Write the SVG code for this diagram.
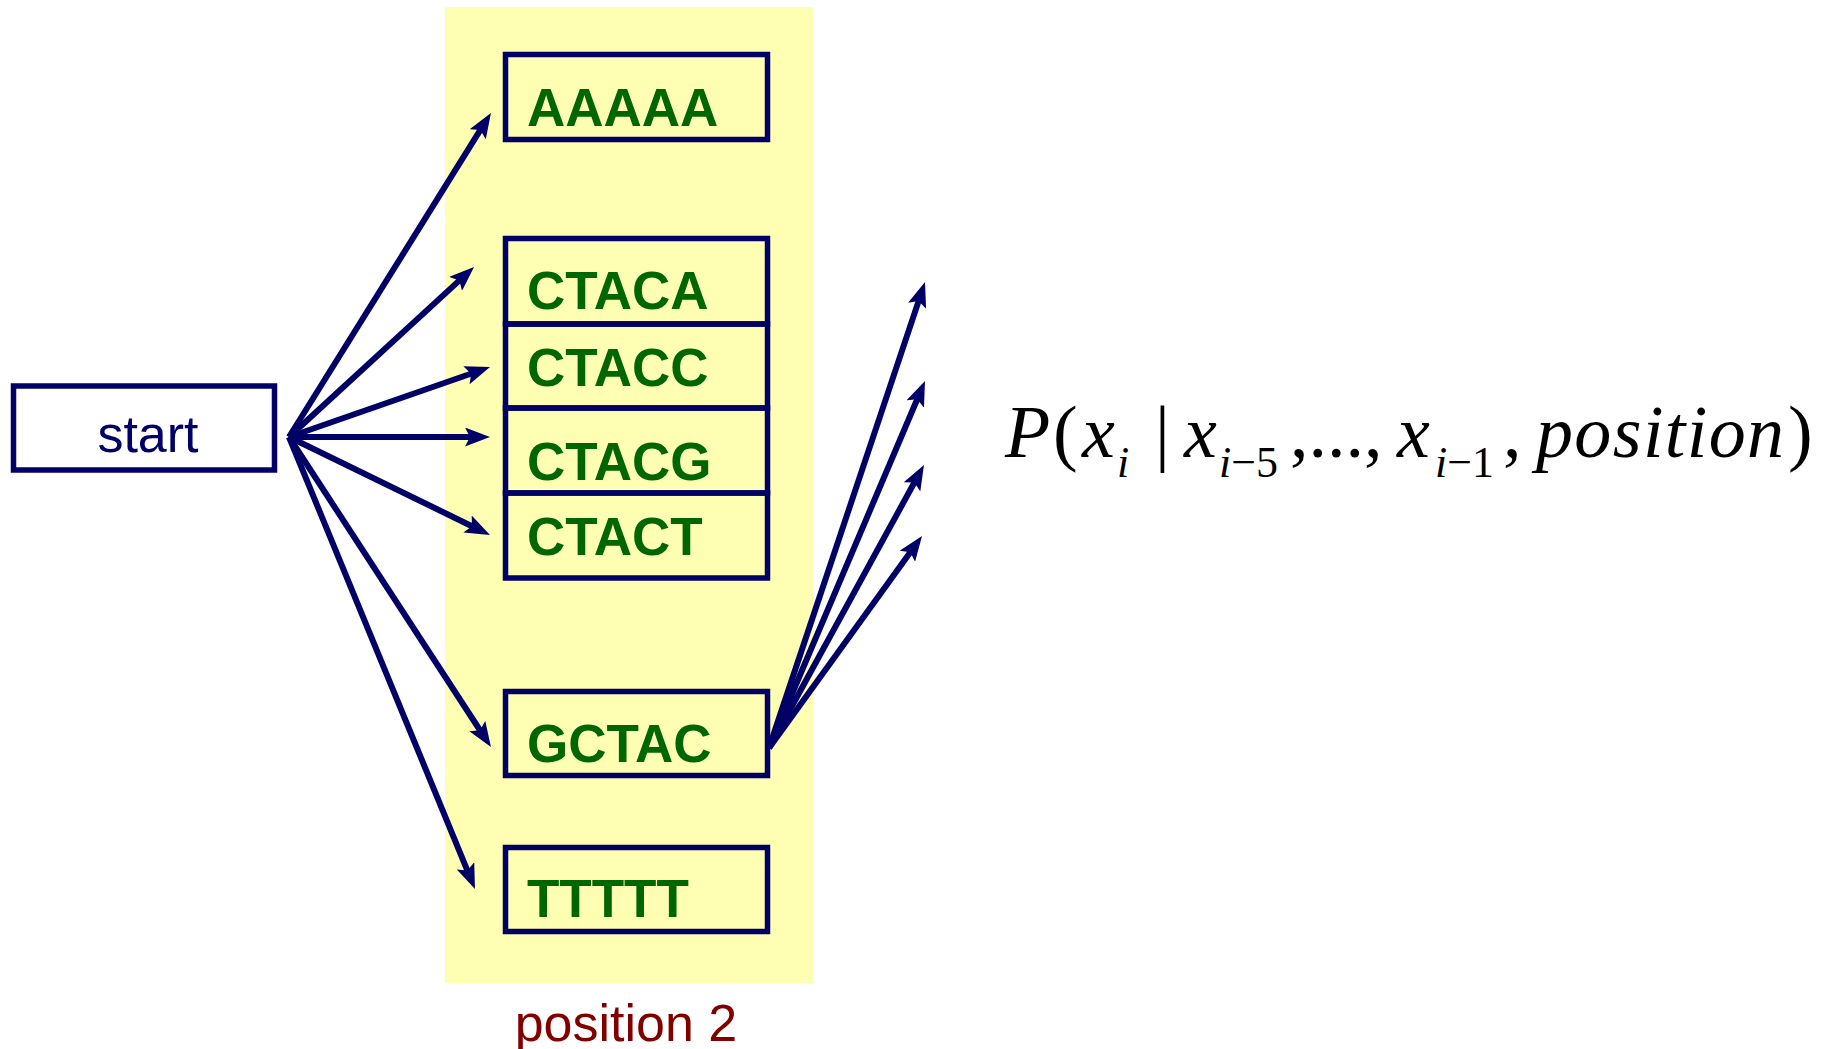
<svg xmlns="http://www.w3.org/2000/svg" width="1828" height="1049" viewBox="0 0 1828 1049">
<style>
.box{fill:none;stroke:#000066;stroke-width:5.5}
.seq{font-family:"Liberation Sans",Arial,sans-serif;font-weight:bold;font-size:53px;fill:#006600}
.lbl{font-family:"Liberation Sans",Arial,sans-serif;font-size:52px}
.edge{stroke:#000066;stroke-width:6;fill:none;marker-end:url(#ah)}
.math{font-family:"Liberation Serif","Times New Roman",serif;font-size:74px;fill:#000}
.it{font-style:italic}
.sub{font-size:44px}
</style>
<defs>
<marker id="ah" markerUnits="userSpaceOnUse" markerWidth="25" markerHeight="19" viewBox="0 0 25 19" refX="13" refY="9.5" orient="auto">
<path d="M0,0 L25,9.5 L0,19 L5,9.5 z" fill="#000066"/>
</marker>
</defs>
<rect id="band" x="445" y="7" width="368" height="976" fill="#FFFFB4"/>
<text class="lbl" x="626" y="1041" text-anchor="middle" fill="#800000">position 2</text>
<g id="start"><rect class="box" x="13.5" y="386" width="261" height="84"/><text class="lbl" x="148" y="452" text-anchor="middle" fill="#000066">start</text></g>
<g id="AAAAA"><rect class="box" x="505.5" y="54.5" width="262" height="85"/><text class="seq" x="527" y="126">AAAAA</text></g>
<g id="CTACA"><rect class="box" x="505.5" y="238.5" width="262" height="85.5"/><text class="seq" x="527" y="309">CTACA</text></g>
<g id="CTACC"><rect class="box" x="505.5" y="324" width="262" height="84"/><text class="seq" x="527" y="386">CTACC</text></g>
<g id="CTACG"><rect class="box" x="505.5" y="408" width="262" height="85"/><text class="seq" x="527" y="480">CTACG</text></g>
<g id="CTACT"><rect class="box" x="505.5" y="493" width="262" height="85"/><text class="seq" x="527" y="555">CTACT</text></g>
<g id="GCTAC"><rect class="box" x="505.5" y="691.5" width="262" height="84"/><text class="seq" x="527" y="762">GCTAC</text></g>
<g id="TTTTT"><rect class="box" x="505.5" y="847.5" width="262" height="84"/><text class="seq" x="527" y="917">TTTTT</text></g>
<g id="connectors">
<line class="edge" x1="289" y1="437" x2="484.6" y2="123.2"/>
<line class="edge" x1="289" y1="437" x2="465.2" y2="275.1"/>
<line class="edge" x1="289" y1="437" x2="478.7" y2="371.0"/>
<line class="edge" x1="289" y1="437" x2="478" y2="437"/>
<line class="edge" x1="289" y1="437" x2="479.2" y2="529.7"/>
<line class="edge" x1="289" y1="437" x2="484.4" y2="737.0"/>
<line class="edge" x1="289" y1="437" x2="470.4" y2="877.9"/>
<line class="edge" x1="769" y1="748" x2="921.2" y2="293.4"/>
<line class="edge" x1="769" y1="748" x2="920.3" y2="392.0"/>
<line class="edge" x1="769" y1="748" x2="918.2" y2="475.5"/>
<line class="edge" x1="769" y1="748" x2="915.0" y2="545.7"/>
</g>
<g id="formula" class="math">
<text x="1005" y="457" class="it">P</text>
<text x="1053" y="457">(</text>
<text x="1082" y="457" class="it">x</text>
<text x="1117" y="477" class="it sub">i</text>
<text x="1155" y="457">|</text>
<text x="1184" y="457" class="it">x</text>
<text x="1219" y="477" class="sub"><tspan class="it">i</tspan>−5</text>
<text x="1290" y="457">,...,</text>
<text x="1397" y="457" class="it">x</text>
<text x="1435" y="477" class="sub"><tspan class="it">i</tspan>−1</text>
<text x="1503" y="457">,</text>
<text x="1536" y="457" class="it" textLength="248" lengthAdjust="spacing">position</text>
<text x="1788" y="457">)</text>
</g>
</svg>
